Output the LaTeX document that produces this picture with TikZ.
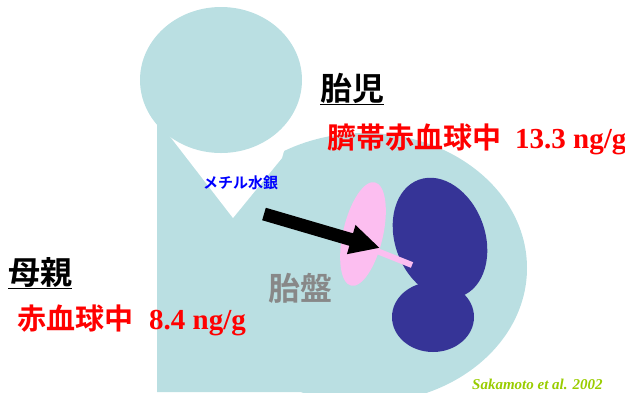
\documentclass[tikz,border=0pt]{standalone}
\usepackage{fontspec}
\setmainfont{Liberation Serif}
\newfontfamily\jpfont{Noto Sans CJK JP}[BoldFont={Noto Sans CJK JP Bold}]
\usetikzlibrary{arrows.meta}

\definecolor{bodyblue}{RGB}{186,223,226}
\definecolor{fetusblue}{RGB}{54,52,151}
\definecolor{placentapink}{RGB}{252,190,240}
\definecolor{hgblue}{RGB}{0,0,255}
\definecolor{labelgray}{RGB}{136,136,136}
\definecolor{citegreen}{RGB}{153,204,0}

\begin{document}
\begin{tikzpicture}[
        x=1pt, y=-1pt,
        every node/.style={inner sep=0pt, anchor=west},
        who/.style={font=\fontsize{32}{36}\selectfont\jpfont\bfseries, text=black},
        level/.style={font=\fontsize{29}{34}\selectfont\bfseries, text=red},
        organ/.style={font=\fontsize{32}{36}\selectfont\jpfont\bfseries, text=labelgray},
        metal/.style={font=\fontsize{15}{18}\selectfont\jpfont\bfseries, text=hgblue},
        cite/.style={font=\fontsize{15}{18}\selectfont\bfseries\itshape, text=citegreen}
    ]
    \useasboundingbox (0,0) rectangle (625,392);

    % mother's body, head and the gap between them
    \fill[bodyblue] (365,268) ellipse [x radius=162, y radius=135];
    \fill[bodyblue] (157,110) -- (200,110) -- (240,150) -- (300,175) -- (365,200) -- (365,392) -- (157,392) -- cycle;
    \fill[white] (165,130) -- (233,218) -- (282,158) -- (290,130) -- cycle;
    \fill[bodyblue] (221,80) ellipse [x radius=81, y radius=73];

    % placenta and fetus
    \fill[placentapink, rotate around={-13:(363,234)}] (363,234) ellipse [x radius=20, y radius=53];
    \coordinate (hgtail) at (264,214);
    \coordinate (hgtip) at (380,248);
    \draw[line width=13pt, -{Triangle[length=30pt, width=28pt]}] (hgtail) -- (hgtip);
    \fill[fetusblue, rotate around={20:(440,238)}] (440,238) ellipse [x radius=45, y radius=62];
    \fill[fetusblue] (433,317) ellipse [x radius=41, y radius=35];
    \coordinate (cordin) at (377,251);
    \coordinate (cordout) at (412,265);
    \draw[placentapink, line width=6pt] (cordin) -- (cordout);

    \node[who] (fetuslabel) at (320,89) {\underline{胎児}};
    \node[level] (fetuslevel) at (327,139) {{\jpfont 臍帯赤血球中}\hspace{14pt}13.3 ng/g};
    \node[who] (motherlabel) at (8,273) {\underline{母親}};
    \node[level] (motherlevel) at (17,320) {{\jpfont 赤血球中}\hspace{16pt}8.4 ng/g};
    \node[metal] (mehg) at (203,183) {メチル水銀};
    \node[organ] (placenta) at (268,288) {胎盤};
    \node[cite] (source) at (472,384) {Sakamoto et al. 2002};
\end{tikzpicture}
\end{document}
